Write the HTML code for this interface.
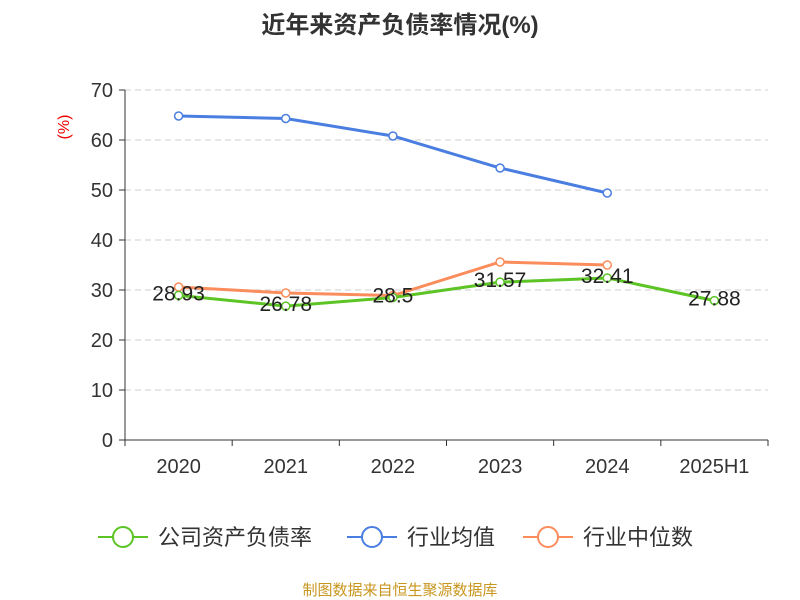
<!DOCTYPE html>
<html><head><meta charset="utf-8"><style>
body{margin:0;background:#fff;}
svg{display:block;font-family:"Liberation Sans","Noto Sans CJK SC",sans-serif;}
</style></head><body>
<svg id="chart" width="800" height="600">
<text x="400" y="33" text-anchor="middle" font-size="24" font-weight="bold" fill="#333">近年来资产负债率情况(%)</text>
<text x="69" y="127" text-anchor="middle" font-size="16" fill="#e00" transform="rotate(-90 69 127)">(%)</text>
<g id="grid"></g><g id="axes"></g><g id="series"></g>
<g>
<g><line x1="98" y1="537" x2="148" y2="537" stroke="#5cc424" stroke-width="2"/><circle cx="123" cy="537" r="10" fill="#fff" stroke="#5cc424" stroke-width="2"/><text x="158" y="545" font-size="22" fill="#333">公司资产负债率</text></g>
<g><line x1="347" y1="537" x2="397" y2="537" stroke="#4a7ee0" stroke-width="2"/><circle cx="372" cy="537" r="10" fill="#fff" stroke="#4a7ee0" stroke-width="2"/><text x="407" y="545" font-size="22" fill="#333">行业均值</text></g>
<g><line x1="523" y1="537" x2="573" y2="537" stroke="#fb8c5c" stroke-width="2"/><circle cx="548" cy="537" r="10" fill="#fff" stroke="#fb8c5c" stroke-width="2"/><text x="583" y="545" font-size="22" fill="#333">行业中位数</text></g>
</g>
<text x="400" y="595" text-anchor="middle" font-size="15" fill="#c8961e">制图数据来自恒生聚源数据库</text>
</svg>
<script>
const categories=["2020","2021","2022","2023","2024","2025H1"];
const companyValues=[28.93,26.78,28.5,31.57,32.41,27.88];
const meanValues=[64.8,64.3,60.8,54.4,49.4];
const medianValues=[30.6,29.4,28.9,35.6,35.0];
const yTicks=[0,10,20,30,40,50,60,70];
const NS="http://www.w3.org/2000/svg";
const x0=125,x1=768,y0=440,yTop=90,yMax=70;
const band=(x1-x0)/categories.length;
const xs=i=>x0+band*(i+0.5);
const ys=v=>y0-(v/yMax)*(y0-yTop);
function mk(t,a,p){const e=document.createElementNS(NS,t);for(const k in a)e.setAttribute(k,a[k]);p.appendChild(e);return e;}
const grid=document.getElementById('grid'),axes=document.getElementById('axes'),ser=document.getElementById('series');
yTicks.forEach(v=>{
 if(v>0){const g=mk('line',{x1:x0,x2:x1,y1:ys(v),y2:ys(v),stroke:'#ccc','stroke-dasharray':'6,4'},grid);
 
 }
 const tk=mk('line',{x1:x0-6,x2:x0,y1:ys(v),y2:ys(v),stroke:'#333'},axes);
 
 
 const t=mk('text',{x:x0-12,y:ys(v)+7,'text-anchor':'end','font-size':20,fill:'#333'},axes);t.textContent=v;
 
 
});
const ya=mk('line',{x1:x0,x2:x0,y1:yTop,y2:y0,stroke:'#333'},axes);


const xa=mk('line',{x1:x0,x2:x1,y1:y0,y2:y0,stroke:'#333'},axes);


for(let i=0;i<=categories.length;i++){const l=mk('line',{x1:x0+band*i,x2:x0+band*i,y1:y0,y2:y0+6,stroke:'#333'},axes);
 
 }
categories.forEach((c,i)=>{const t=mk('text',{x:xs(i),y:473,'text-anchor':'middle','font-size':20,fill:'#333'},axes);t.textContent=c;
 
 });
function series(vals,color,name,labels){
 const g=mk('g',{},ser);
 
 
 mk('polyline',{points:vals.map((v,i)=>xs(i)+','+ys(v)).join(' '),fill:'none',stroke:color,'stroke-width':3},g);
 vals.forEach((v,i)=>{const c=mk('circle',{cx:xs(i),cy:ys(v),r:4,fill:'#fff',stroke:color,'stroke-width':1.5},g);
  
  
  if(labels){const t=mk('text',{x:xs(i),y:ys(v)+5,'text-anchor':'middle','font-size':21,fill:'#222'},g);t.textContent=v;
   
   }
 });
}
series(meanValues,'#4a7ee0','industry-mean-line',false);
series(medianValues,'#fb8c5c','industry-median-line',false);
series(companyValues,'#5cc424','company-debt-line',true);
</script>
</body></html>
